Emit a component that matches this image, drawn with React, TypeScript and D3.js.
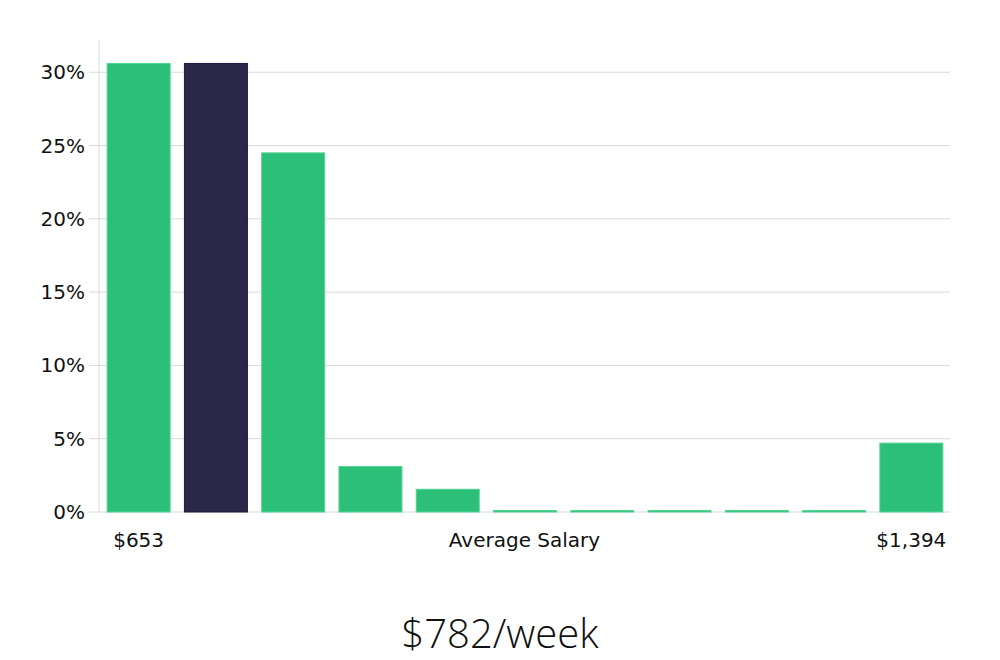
import React from "react";
import * as d3 from "d3";

const bins = ["b1", "b2", "b3", "b4", "b5", "b6", "b7", "b8", "b9", "b10", "b11"];
const shares = [30.6, 30.6, 24.5, 3.1, 1.55, 0.1, 0.1, 0.1, 0.1, 0.1, 4.7];
const highlighted = [false, true, false, false, false, false, false, false, false, false, false];
const yTicks = [0, 5, 10, 15, 20, 25, 30];
const xLabelLeft = "$653";
const xLabelRight = "$1,394";
const xTitle = "Average Salary";
const headline = "$782/week";

const W = 1000, H = 660;
const left = 99, right = 950, top = 40, bottom = 512;

export default function App() {
  const x = d3.scaleBand<string>().domain(bins).range([left + 1, right]).paddingInner(0.185).paddingOuter(0.0925);
  const y = d3.scaleLinear().domain([0, 32.2]).range([bottom, top]);
  const font = "'DejaVu Sans', sans-serif";
  return (
    <svg width={W} height={H} style={{ position: "absolute", left: 0, top: 0, background: "#fff" }}>
      {yTicks.map((t) => (
        <g key={t}>
          <line x1={89} x2={right} y1={y(t)} y2={y(t)} stroke="#d9d9d9" strokeWidth={1} />
          <text x={85} y={y(t)} dy="0.35em" textAnchor="end" fontFamily={font} fontSize={20} fill="#111">
            {t}%
          </text>
        </g>
      ))}
      <line x1={left} x2={left} y1={top} y2={bottom} stroke="#d9d9d9" strokeWidth={1} />
      {bins.map((b, i) => {
        const yy = y(shares[i]);
        return (
          <rect
            key={b}
            x={x(b)!}
            y={yy}
            width={x.bandwidth()}
            height={bottom - yy}
            fill={highlighted[i] ? "#2a2749" : "#2bbf77"}
            stroke={highlighted[i] ? "#1c1a38" : "#4fd493"}
            strokeWidth={1}
          />
        );
      })}
      <text x={x(bins[0])! + x.bandwidth() / 2} y={547} textAnchor="middle" fontFamily={font} fontSize={20} fill="#111">
        {xLabelLeft}
      </text>
      <text x={(left + right) / 2} y={547} textAnchor="middle" fontFamily={font} fontSize={20} fill="#111">
        {xTitle}
      </text>
      <text x={x(bins[bins.length - 1])! + x.bandwidth() / 2} y={547} textAnchor="middle" fontFamily={font} fontSize={20} fill="#111">
        {xLabelRight}
      </text>
      <text x={500} y={648} textAnchor="middle" fontFamily="'Open Sans', sans-serif" fontWeight={300} fontSize={40} fill="#111">
        {headline}
      </text>
    </svg>
  );
}
